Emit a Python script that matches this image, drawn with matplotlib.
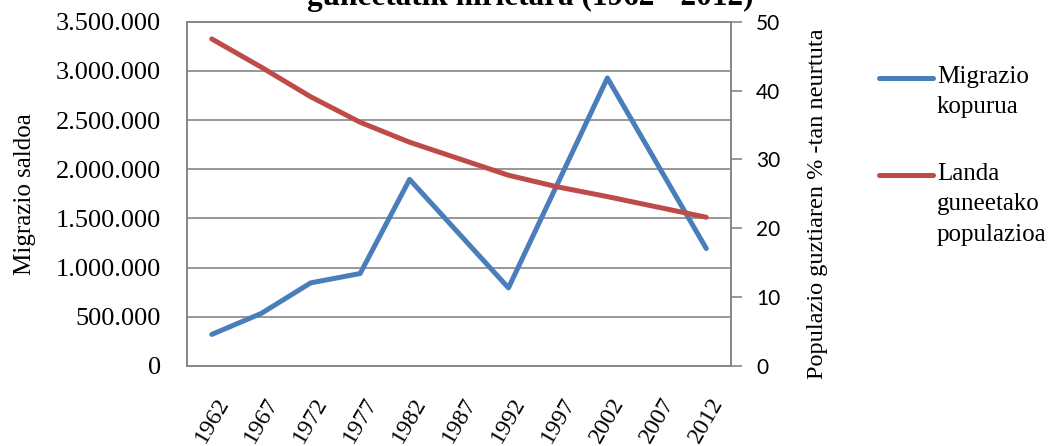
import matplotlib.pyplot as plt
from matplotlib.lines import Line2D
from matplotlib.ticker import FuncFormatter

years = [1962, 1967, 1972, 1977, 1982, 1987, 1992, 1997, 2002, 2007, 2012]
migr_years = [1962, 1967, 1972, 1977, 1982, 1992, 2002, 2012]
migr = [321000, 534000, 845000, 940000, 1897000, 794000, 2928000, 1194000]
landa = [47.5, 43.4, 39.1, 35.4, 32.5, 30.1, 27.7, 26.0, 24.6, 23.1, 21.6]

blue = '#4A7EBB'
red = '#BE4B48'
grey = '#868686'
serif = ['Liberation Serif', 'DejaVu Serif']

fig = plt.figure(figsize=(10.55, 4.46), dpi=100)
ax = fig.add_axes([0.1773, 0.1794, 0.5156, 0.7719])
ax2 = ax.twinx()

l1, = ax.plot(migr_years, migr, color=blue, lw=3.6, solid_capstyle='round',
              solid_joinstyle='round', label='Migrazio\nkopurua')
l2, = ax2.plot(years, landa, color=red, lw=3.6, solid_capstyle='round',
               solid_joinstyle='round', label='Landa\nguneetako\npopulazioa')

ax.set_xlim(1959.5, 2014.5)
ax.set_ylim(0, 3500000)
ax2.set_ylim(0, 50)
ax.set_yticks(range(0, 3500001, 500000))
ax2.set_yticks(range(0, 51, 10))
ax.yaxis.set_major_formatter(FuncFormatter(lambda v, p: f'{int(v):,}'.replace(',', '.')))
ax.grid(axis='y', color=grey, lw=1.2)
ax.set_axisbelow(True)

ax.set_xticks(years)
ax.set_xticklabels([str(y) for y in years], rotation=60, ha='center',
                   fontsize=17.5, family=serif)
ax.tick_params(axis='x', length=0, pad=20)
ax.tick_params(axis='y', length=0, pad=19, labelsize=19)
for t in ax.get_yticklabels():
    t.set_family(serif)
ax2.tick_params(axis='y', length=8, width=1.2, color=grey, pad=10, labelsize=15)
for t in ax2.get_yticklabels():
    t.set_family(['Lato', 'DejaVu Sans'])

for a in (ax, ax2):
    for s in a.spines.values():
        s.set_color(grey)
        s.set_linewidth(1.2)

ax.set_ylabel('Migrazio saldoa', fontsize=18, family=serif, labelpad=14)
ax2.set_ylabel('Populazio guztiaren % -tan neurtuta', fontsize=17.5, family=serif)
ax2.yaxis.set_label_coords(1.14, 0.47)

fig.text(0.503, 0.988, 'guneetatik hirietara (1962 - 2012)', ha='center', va='baseline',
         fontsize=22.5, fontweight='bold', family=serif)

# legend drawn by hand so the line sits on the first text line
leg_y = [0.825, 0.607]
for line, y in zip([l1, l2], leg_y):
    fig.add_artist(Line2D([0.833, 0.884], [y, y], transform=fig.transFigure,
                          color=line.get_color(), lw=3.6, solid_capstyle='round'))
    fig.text(0.888, y + 0.028, line.get_label(), ha='left', va='top', fontsize=18,
             family=serif, linespacing=1.5)

fig.savefig('out.png', dpi=100)
